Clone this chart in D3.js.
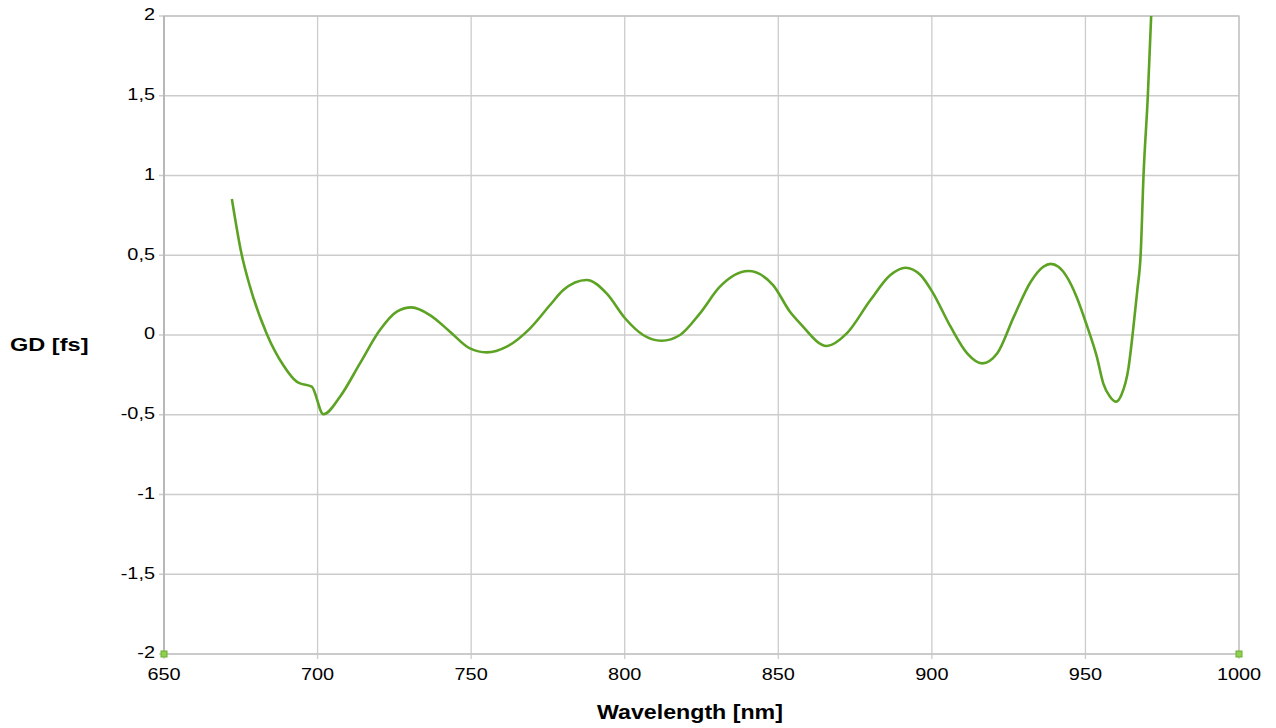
<!DOCTYPE html>
<html><head><meta charset="utf-8">
<script src="https://cdn.jsdelivr.net/npm/d3@7"></script>
<style>
html,body{margin:0;padding:0;background:#fff;}
svg{display:block;}
text{font-family:"Liberation Sans",Arial,sans-serif;fill:#000;}
</style></head>
<body>
<svg id="c" width="1276" height="728"></svg>
<script>
// Data
const wavelength = [672.1,675.2,678.0,683.4,688.8,693.2,694.3,698.1,701.9,707.3,713.8,720.3,725.8,730.6,736.6,743.1,749.6,755.1,761.6,769.2,775.7,780.0,787.6,794.1,800.1,806.0,812.0,818.0,824.5,831.0,840.2,848.3,853.8,857.1,865.8,872.3,880.0,886.5,891.4,896.3,900.1,906.1,911.5,916.4,921.3,926.7,932.2,936.3,938.7,941.2,943.9,947.1,950.4,953.7,955.8,958.0,960.0,961.8,964.0,965.4,966.9,968.0,968.9,970.3,971.4,972.5];
const gd = [0.853,0.512,0.303,0.010,-0.188,-0.292,-0.303,-0.324,-0.497,-0.387,-0.178,0.031,0.146,0.173,0.125,0.021,-0.084,-0.109,-0.073,0.042,0.188,0.282,0.345,0.261,0.105,0.000,-0.036,0.000,0.136,0.303,0.401,0.313,0.146,0.073,-0.069,0.010,0.219,0.376,0.422,0.376,0.272,0.052,-0.115,-0.178,-0.115,0.115,0.334,0.428,0.446,0.428,0.366,0.240,0.063,-0.136,-0.303,-0.387,-0.418,-0.372,-0.209,0.010,0.282,0.512,0.993,1.494,2.000,2.500];
const markerX = [650, 1000];
const markerY = [-2, -2];
const xTicks = [650,700,750,800,850,900,950,1000];
const yTicks = [-2,-1.5,-1,-0.5,0,0.5,1,1.5,2];
const xTitle = "Wavelength [nm]";
const yTitle = "GD [fs]";

const svg = d3.select("#c");
const L = 164, R = 1239, T = 16, B = 654;
const x = d3.scaleLinear().domain([650,1000]).range([L,R]);
const y = d3.scaleLinear().domain([-2,2]).range([B,T]);
const fmt = v => String(v).replace(".", ",");
const SX = 1.17;

// grid
const g = svg.append("g");
g.selectAll(".vx").data(xTicks).join("line")
  .attr("x1", d=>x(d)).attr("x2", d=>x(d)).attr("y1", T).attr("y2", B+5)
  .attr("stroke", "#cccccc").attr("stroke-width", 1.3);
g.selectAll(".hy").data(yTicks).join("line")
  .attr("x1", L-5).attr("x2", R).attr("y1", d=>y(d)).attr("y2", d=>y(d))
  .attr("stroke", "#cccccc").attr("stroke-width", 1.3);
// frame
svg.append("rect").attr("x", L).attr("y", T).attr("width", R-L).attr("height", B-T)
  .attr("fill", "none").attr("stroke", "#c4c4c4").attr("stroke-width", 1.3);
svg.append("line").attr("x1", L).attr("x2", L).attr("y1", T).attr("y2", B)
  .attr("stroke", "#b8b8b8").attr("stroke-width", 2);

// tick labels
svg.selectAll(".xl").data(xTicks).join("text")
  .attr("transform", d=>`translate(${x(d)},${B+22}) scale(${SX},1)`)
  .attr("text-anchor", "middle").attr("dominant-baseline", "middle")
  .style("font-size", "17px").text(d=>fmt(d));
svg.selectAll(".yl").data(yTicks).join("text")
  .attr("transform", d=>`translate(${L-9},${y(d)}) scale(${SX},1)`)
  .attr("text-anchor", "end").attr("dominant-baseline", "middle")
  .style("font-size", "17px").text(d=>fmt(d));

// titles
svg.append("text").attr("transform", `translate(10,351) scale(1.24,1)`)
  .style("font-size", "19px").style("font-weight", "bold").text(yTitle);
svg.append("text").attr("transform", `translate(690,719) scale(1.16,1)`)
  .attr("text-anchor", "middle")
  .style("font-size", "20px").style("font-weight", "bold").text(xTitle);

// clip
svg.append("clipPath").attr("id", "clip").append("rect")
  .attr("x", L).attr("y", T).attr("width", R-L).attr("height", B-T);

const line = d3.line().x((d,i)=>x(wavelength[i])).y((d,i)=>y(gd[i]))
  .curve(d3.curveMonotoneX);
svg.append("path").datum(gd).attr("clip-path", "url(#clip)")
  .attr("d", line).attr("fill", "none").attr("stroke", "#5ca223")
  .attr("stroke-width", 2.6).attr("stroke-linejoin", "round");

// markers
svg.selectAll(".mk").data(markerX).join("rect")
  .attr("x", (d)=>x(d)-3).attr("y", (d,i)=>y(markerY[i])-3)
  .attr("width", 6).attr("height", 6)
  .attr("fill", "#8fd14f").attr("stroke", "#6aab2e").attr("stroke-width", 1);
</script>
</body></html>
